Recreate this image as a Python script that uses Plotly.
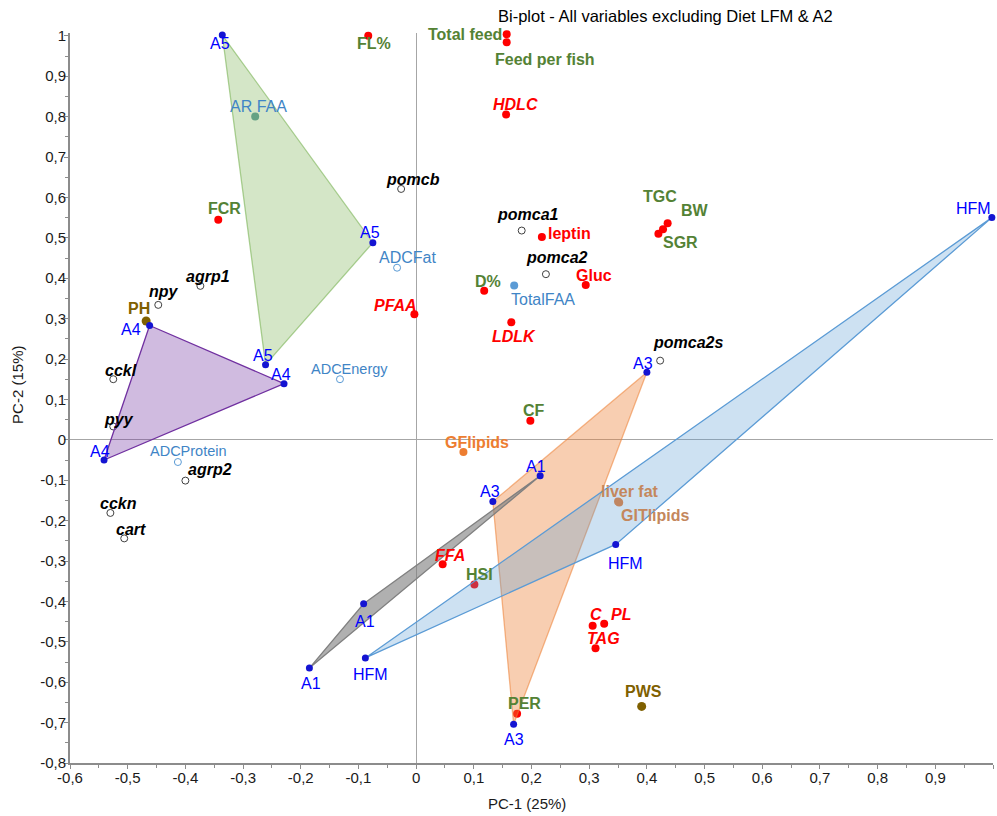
import plotly.graph_objects as go

# ---------------- data (PC-1, PC-2 loadings / scores) ----------------
# sample groups (scores)
A5_PC1 = [-0.336, -0.075, -0.261]
A5_PC2 = [1.002, 0.488, 0.186]
A4_PC1 = [-0.462, -0.229, -0.541]
A4_PC2 = [0.283, 0.139, -0.050]
A1_PC1 = [0.215, -0.091, -0.185]
A1_PC2 = [-0.089, -0.406, -0.565]
A3_PC1 = [0.400, 0.133, 0.169]
A3_PC2 = [0.167, -0.153, -0.704]
HFM_PC1 = [0.998, 0.346, -0.088]
HFM_PC2 = [0.550, -0.259, -0.540]

# growth / feeding variables
growth_names = ["FL%", "Total feed", "Feed per fish", "FCR", "BW", "TGC", "SGR", "D%", "CF", "HSI", "PER"]
growth_pc1 = [-0.083, 0.157, 0.157, -0.343, 0.436, 0.428, 0.420, 0.118, 0.198, 0.101, 0.175]
growth_pc2 = [1.000, 1.004, 0.984, 0.545, 0.536, 0.521, 0.510, 0.369, 0.047, -0.358, -0.678]

# plasma variables
plasma_names = ["HDLC", "leptin", "Gluc", "LDLK", "PFAA", "FFA", "C", "PL", "TAG"]
plasma_italic = [True, False, False, True, True, True, True, True, True]
plasma_pc1 = [0.156, 0.218, 0.294, 0.165, -0.003, 0.046, 0.306, 0.326, 0.311]
plasma_pc2 = [0.805, 0.502, 0.383, 0.291, 0.311, -0.308, -0.460, -0.455, -0.516]

# water variables
water_names = ["PH", "PWS"]
water_pc1 = [-0.468, 0.391]
water_pc2 = [0.294, -0.660]

# lipid variables
lipid_names = ["GFlipids", "liver fat", "GITlipids"]
lipid_pc1 = [0.082, 0.350, 0.352]
lipid_pc2 = [-0.030, -0.153, -0.155]

# digestibility / free amino acids
faa_names = ["AR FAA", "TotalFAA"]
faa_pc1 = [-0.279, 0.170]
faa_pc2 = [0.800, 0.382]
adc_names = ["ADCFat", "ADCEnergy", "ADCProtein"]
adc_pc1 = [-0.033, -0.132, -0.413]
adc_pc2 = [0.426, 0.150, -0.055]

# genes
gene_names = ["pomcb", "pomca1", "pomca2", "pomca2s", "agrp1", "npy", "cckl", "pyy", "agrp2", "cckn", "cart"]
gene_pc1 = [-0.026, 0.183, 0.225, 0.423, -0.374, -0.447, -0.525, -0.525, -0.400, -0.530, -0.506]
gene_pc2 = [0.621, 0.518, 0.410, 0.196, 0.381, 0.334, 0.150, 0.033, -0.101, -0.181, -0.244]

x_ticks = [-0.6, -0.5, -0.4, -0.3, -0.2, -0.1, 0, 0.1, 0.2, 0.3, 0.4, 0.5, 0.6, 0.7, 0.8, 0.9, 1.0]
x_ticktext = ["-0,6", "-0,5", "-0,4", "-0,3", "-0,2", "-0,1", "0", "0,1", "0,2", "0,3", "0,4", "0,5",
              "0,6", "0,7", "0,8", "0,9", "1"]
y_ticks = [-0.8, -0.7, -0.6, -0.5, -0.4, -0.3, -0.2, -0.1, 0, 0.1, 0.2, 0.3, 0.4, 0.5, 0.6, 0.7, 0.8, 0.9, 1.0]
y_ticktext = ["-0,8", "-0,7", "-0,6", "-0,5", "-0,4", "-0,3", "-0,2", "-0,1", "0", "0,1", "0,2", "0,3",
              "0,4", "0,5", "0,6", "0,7", "0,8", "0,9", "1"]

# ---------------- label placement (pixel offsets dx, dy; dy down) ----------------
OFF = {
    "FL%": (6, 8), "Total feed": (-42, 0), "Feed per fish": (38, 17), "FCR": (6, -11),
    "BW": (27, -13), "TGC": (-3, -33), "SGR": (22, 9), "D%": (4, -9), "CF": (4, -10),
    "HSI": (5, -10), "PER": (7, -10),
    "HDLC": (9, -10), "leptin": (28, -4), "Gluc": (8, -10), "LDLK": (3, 14), "PFAA": (-19, -9),
    "FFA": (7, -9), "C": (3, -11), "PL": (17, -9), "TAG": (8, -10),
    "PH": (-7, -13), "PWS": (2, -15),
    "GFlipids": (14, -9), "liver fat": (12, -10), "GITlipids": (36, 13),
    "AR FAA": (3, -10), "TotalFAA": (29, 14),
    "ADCFat": (10, -10), "ADCEnergy": (10, -10), "ADCProtein": (11, -11),
    "pomcb": (12, -9), "pomca1": (6, -16), "pomca2": (11, -17), "pomca2s": (28, -18),
    "agrp1": (8, -9), "npy": (6, -13), "cckl": (8, -9), "pyy": (6, -7), "agrp2": (25, -11),
    "cckn": (8, -9), "cart": (7, -9),
}
GROUP_OFF = {
    "A5": [(-2, 8), (-3, -10), (-3, -9)],
    "A4": [(-19, 4), (-3, -9), (-4, -9)],
    "A1": [(-4, -9), (1, 18), (2, 15)],
    "A3": [(-4, -9), (-3, -10), (0, 15)],
    "HFM": [(-18, -9), (10, 19), (5, 17)],
}

FONT = "Liberation Sans, Arial, sans-serif"
GREEN = "#548235"
RED = "#FF0000"
BLUE_T = "#3F85C6"
BROWN = "#7F6000"
ORANGE = "#ED7D31"
TAN = "#C4875C"
GROUP_BLUE = "#1414D2"

fig = go.Figure()
annotations = []


def add_label(name, x, y, color, bold=True, italic=False, size=16, off=None):
    dx, dy = off if off is not None else OFF[name]
    t = name
    if italic:
        t = "<i>" + t + "</i>"
    if bold:
        t = "<b>" + t + "</b>"
    annotations.append(dict(x=x, y=y, xref="x", yref="y", text=t, showarrow=False,
                            xshift=dx, yshift=-dy, xanchor="center", yanchor="middle",
                            font=dict(family=FONT, size=size, color=color)))


def markers(xs, ys, color, size=8, open_=False, line_color=None):
    if open_:
        m = dict(size=size, color="white", line=dict(color=line_color, width=1))
    else:
        m = dict(size=size, color=color, line=dict(width=0))
    fig.add_trace(go.Scatter(x=xs, y=ys, mode="markers", marker=m, cliponaxis=False,
                             showlegend=False, hoverinfo="skip"))


# variable markers (drawn below polygons)
markers(growth_pc1, growth_pc2, RED)
markers(plasma_pc1, plasma_pc2, RED)
markers(water_pc1, water_pc2, BROWN, size=9)
markers(lipid_pc1, lipid_pc2, ORANGE)
markers([faa_pc1[0]], [faa_pc2[0]], "#5F9EA0")
markers([faa_pc1[1]], [faa_pc2[1]], "#5B9BD5")
markers(adc_pc1, adc_pc2, None, size=7, open_=True, line_color="#5B9BD5")
markers(gene_pc1, gene_pc2, None, size=7, open_=True, line_color="#404040")

# group polygons
polys = [
    (A5_PC1, A5_PC2, "rgba(112,173,71,0.30)", "rgba(112,173,71,0.55)"),
    (A4_PC1, A4_PC2, "rgba(112,48,160,0.33)", "#7030A0"),
    (A3_PC1, A3_PC2, "rgba(237,125,49,0.38)", "rgba(237,125,49,0.55)"),
    (HFM_PC1, HFM_PC2, "rgba(91,155,213,0.30)", "#5B9BD5"),
    (A1_PC1, A1_PC2, "rgba(128,128,128,0.62)", "#808080"),
]
for xs, ys, fc, lc in polys:
    fig.add_trace(go.Scatter(x=xs + [xs[0]], y=ys + [ys[0]], mode="lines", fill="toself",
                             fillcolor=fc, line=dict(color=lc, width=1.3), cliponaxis=False,
                             showlegend=False, hoverinfo="skip"))

# group markers
groups = [("A5", A5_PC1, A5_PC2), ("A4", A4_PC1, A4_PC2), ("A1", A1_PC1, A1_PC2),
          ("A3", A3_PC1, A3_PC2), ("HFM", HFM_PC1, HFM_PC2)]
for g, xs, ys in groups:
    markers(xs, ys, GROUP_BLUE, size=7)
    for i in range(len(xs)):
        add_label(g, xs[i], ys[i], "#0000FF", bold=False, off=GROUP_OFF[g][i])

# labels
for n, x, y in zip(growth_names, growth_pc1, growth_pc2):
    add_label(n, x, y, GREEN)
for n, x, y, it in zip(plasma_names, plasma_pc1, plasma_pc2, plasma_italic):
    add_label(n, x, y, RED, italic=it)
for n, x, y in zip(water_names, water_pc1, water_pc2):
    add_label(n, x, y, BROWN)
for n, x, y in zip(lipid_names, lipid_pc1, lipid_pc2):
    add_label(n, x, y, ORANGE if n == "GFlipids" else TAN)
for n, x, y in zip(faa_names, faa_pc1, faa_pc2):
    add_label(n, x, y, BLUE_T, bold=False)
for n, x, y in zip(adc_names, adc_pc1, adc_pc2):
    add_label(n, x, y, BLUE_T, bold=False, size=14.5 if n != "ADCFat" else 16)
for n, x, y in zip(gene_names, gene_pc1, gene_pc2):
    add_label(n, x, y, "#000000", italic=True)

# title and axis titles
annotations.append(dict(x=0.6457, y=1.0233, xref="paper", yref="paper", showarrow=False,
                        text="Bi-plot - All variables excluding Diet LFM & A2",
                        xanchor="center", yanchor="middle",
                        font=dict(family=FONT, size=16.5, color="#000000")))
annotations.append(dict(x=0.495, y=-0.0548, xref="paper", yref="paper", showarrow=False,
                        text="PC-1 (25%)", xanchor="center", yanchor="middle",
                        font=dict(family=FONT, size=15, color="#1a1a1a")))
annotations.append(dict(x=-0.0563, y=0.518, xref="paper", yref="paper", showarrow=False,
                        text="PC-2 (15%)", textangle=-90, xanchor="center", yanchor="middle",
                        font=dict(family=FONT, size=15, color="#1a1a1a")))

axis_common = dict(showgrid=False, zeroline=True, zerolinecolor="#A6A6A6", zerolinewidth=1,
                   showline=True, linecolor="#8C8C8C", linewidth=2, ticks="outside",
                   ticklen=4, tickcolor="#8C8C8C", tickwidth=1, automargin=False,
                   tickfont=dict(family=FONT, size=15, color="#1a1a1a"))

fig.update_layout(
    width=997, height=816,
    margin=dict(l=70, r=4, t=33, b=53, autoexpand=False),
    paper_bgcolor="white", plot_bgcolor="white",
    showlegend=False,
    annotations=annotations,
    xaxis=dict(range=[-0.6, 1.0], tickmode="array", tickvals=x_ticks, ticktext=x_ticktext,
               ticklabelstandoff=-4,
               minor=dict(tickmode="linear", tick0=0, dtick=0.05, ticks="outside", ticklen=3,
                          tickcolor="#8C8C8C"),
               **axis_common),
    yaxis=dict(range=[-0.8, 1.007], tickmode="array", tickvals=y_ticks, ticktext=y_ticktext,
               ticklabelstandoff=-5,
               minor=dict(tickmode="linear", tick0=0, dtick=0.05, ticks="outside", ticklen=3,
                          tickcolor="#8C8C8C"),
               **axis_common),
)

fig.write_html("out.html", config={"displayModeBar": False},
               post_script="document.body.style.margin='0';document.body.style.overflow='hidden';")
